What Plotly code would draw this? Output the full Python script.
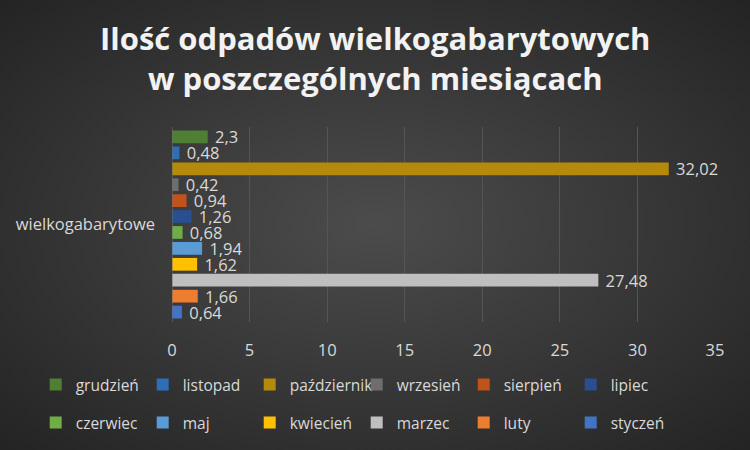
import base64
import plotly.graph_objects as go

category = ["wielkogabarytowe"]
months = ["styczeń", "luty", "marzec", "kwiecień", "maj", "czerwiec",
          "lipiec", "sierpień", "wrzesień", "październik", "listopad", "grudzień"]
values = [0.64, 1.66, 27.48, 1.62, 1.94, 0.68, 1.26, 0.94, 0.42, 32.02, 0.48, 2.3]
colors = ["#4472c4", "#ed7d31", "#bfbfbf", "#ffc000", "#5b9bd5", "#70ad47",
          "#2a4f8f", "#c0521a", "#6e6e6e", "#b38a0c", "#2e6eb5", "#4f7f35"]
x_ticks = [0, 5, 10, 15, 20, 25, 30, 35]

FONT = "Open Sans"
TXT = "#d9d9d9"
FS = 16.5

W, H = 750, 450
ML, MR, MT, MB = 172, 35, 127, 128
PW, PH = W - ML - MR, H - MT - MB

svg = (f"<svg xmlns='http://www.w3.org/2000/svg' width='{W}' height='{H}'>"
       "<defs><radialGradient id='g' cx='50%' cy='50%' r='70%'>"
       "<stop offset='0' stop-color='#4c4c4c'/>"
       "<stop offset='1' stop-color='#242424'/>"
       "</radialGradient></defs>"
       f"<rect width='{W}' height='{H}' fill='url(#g)'/></svg>")
bg_src = "data:image/svg+xml;base64," + base64.b64encode(svg.encode()).decode()

fig = go.Figure()
for i, (m, v, c) in enumerate(zip(months, values, colors)):
    fig.add_trace(go.Bar(
        y=category, x=[v], name=m, orientation="h",
        marker=dict(color=c, line=dict(width=0)),
        text=[" " + f"{v:g}".replace(".", ",")], textposition="outside",
        textfont=dict(color=TXT, size=FS, family=FONT),
        constraintext="none", cliponaxis=False,
        legend="legend" if i >= 6 else "legend2",
    ))

leg_common = dict(orientation="h", x=-0.251, xanchor="left", yanchor="middle",
                  traceorder="reversed", entrywidth=62, entrywidthmode="pixels",
                  font=dict(color=TXT, size=15.5, family=FONT),
                  bgcolor="rgba(0,0,0,0)", itemwidth=30)

fig.update_layout(
    width=W, height=H,
    paper_bgcolor="#333333", plot_bgcolor="rgba(0,0,0,0)",
    margin=dict(l=ML, r=MR, t=MT, b=MB, autoexpand=False),
    barmode="group", bargap=0.02, bargroupgap=0.2,
    xaxis=dict(range=[0, 35], tickvals=x_ticks, showgrid=True,
               gridcolor="#555555", gridwidth=1, zeroline=False,
               tickfont=dict(color=TXT, size=FS, family=FONT),
               ticks="", ticklabelstandoff=16),
    yaxis=dict(showgrid=False, zeroline=False, showline=False,
               tickfont=dict(color=TXT, size=FS, family=FONT),
               ticks="", ticklabelstandoff=16),
    legend=dict(y=-0.323, **leg_common),
    legend2=dict(y=-0.518, **leg_common),
    showlegend=True,
    images=[dict(source=bg_src, xref="paper", yref="paper",
                 x=-ML / PW, y=1 + MT / PH, sizex=W / PW, sizey=H / PH,
                 xanchor="left", yanchor="top", sizing="stretch", layer="below")],
)
fig.add_annotation(
    text="Ilość odpadów wielkogabarytowych<br>w poszczególnych miesiącach",
    xref="paper", yref="paper", x=(W / 2 - ML) / PW, y=1.356,
    xanchor="center", yanchor="middle",
    showarrow=False, align="center",
    font=dict(family=FONT, size=31, color="#f2f2f2", weight="bold"),
)
fig.add_vline(x=0, line=dict(color="#6e6e6e", width=1))

fig.write_html("out.html")
